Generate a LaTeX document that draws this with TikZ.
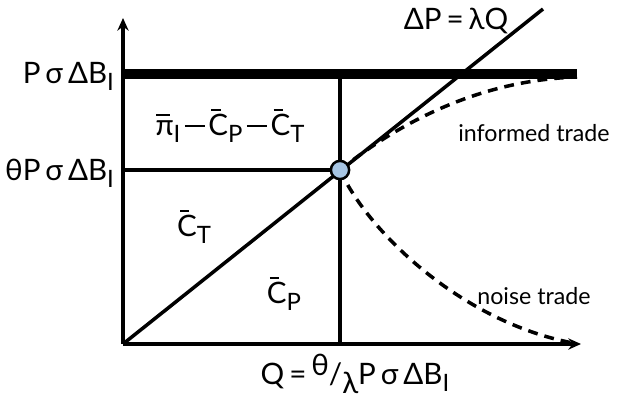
\documentclass[tikz,border=0pt]{standalone}
\usepackage{fontspec}
\setmainfont{Lato}
\usetikzlibrary{arrows.meta, positioning}
\definecolor{eqBlue}{HTML}{A7C5E3}
\newcommand{\barC}{\rlap{\hspace{0.1em}\raisebox{0.83em}{\rule{0.32em}{0.07em}}}C}
\newcommand{\barpi}{\rlap{\hspace{0.02em}\raisebox{0.66em}{\rule{0.48em}{0.07em}}}π}
\newcommand{\sub}[1]{\raisebox{-0.24em}{\fontsize{17}{20}\selectfont #1}}
\newcommand{\mminus}{\hspace{0.15em}\raisebox{0.3em}{\rule{0.68em}{0.065em}}\hspace{0.12em}}

\begin{document}
\begin{tikzpicture}[x=0.025cm, y=-0.025cm,
    line width=2.5pt,
    axis/.style={-{Stealth[length=9pt, width=8pt]}},
    capline/.style={line width=6.5pt},
    trade/.style={dashed, dash pattern=on 7pt off 5pt},
    dot/.style={circle, draw, fill=eqBlue, line width=1.8pt,
                minimum size=13pt, inner sep=0pt},
    lab/.style={font=\fontsize{21}{25}\selectfont, inner sep=1pt},
    small/.style={font=\fontsize{16.5}{19}\selectfont, inner sep=1pt},
  ]
    \useasboundingbox (0,0) rectangle (617,400);

    % axes
    \coordinate (O) at (123,344);
    \coordinate (ytip) at (123,18);
    \coordinate (xtip) at (581,344);
    \draw[axis] (O) -- (ytip);
    \draw[axis] (O) -- (xtip);

    % levels
    \coordinate (capL) at (123,74);
    \coordinate (capR) at (577,74);
    \coordinate (qtop) at (340,74);
    \coordinate (qbot) at (340,344);
    \coordinate (thL) at (123,170);
    \coordinate (lamEnd) at (543,9);
    \draw[capline] (capL) -- (capR);
    \draw (qtop) -- (qbot);
    \draw (thL) -- (340,170);
    \draw (O) -- (lamEnd);

    % trades
    \coordinate (infEnd) at (577,77);
    \coordinate (noiEnd) at (573,343);
    \draw[trade] (340,170) .. controls (405,118) and (485,80) .. (infEnd);
    \draw[trade] (340,170) .. controls (368,232) and (462,322) .. (noiEnd);

    \node[dot] (eq) at (340,170) {};

    % labels
    \node[lab, anchor=east] (pmax) at (117,76) {P\,σ\,ΔB\sub{I}};
    \node[lab, anchor=east] (pth) at (117,173) {θP\,σ\,ΔB\sub{I}};
    \node[lab] (profit) at (230,126) {\barpi\sub{I}\mminus\barC\sub{P}\mminus\barC\sub{T}};
    \node[lab] (ct) at (194,227) {\barC\sub{T}};
    \node[lab] (cp) at (284,294) {\barC\sub{P}};
    \node[lab] (supply) at (456,21) {ΔP\,=\,λQ};
    \node[small] (inf) at (534,133) {informed trade};
    \node[small] (noi) at (534,296) {noise trade};
    \node[lab] (qlab) at (355,374) {Q\,=\,\raisebox{0.3em}{θ}/\raisebox{-0.3em}{λ}P\,σ\,ΔB\sub{I}};
  \end{tikzpicture}
\end{document}
